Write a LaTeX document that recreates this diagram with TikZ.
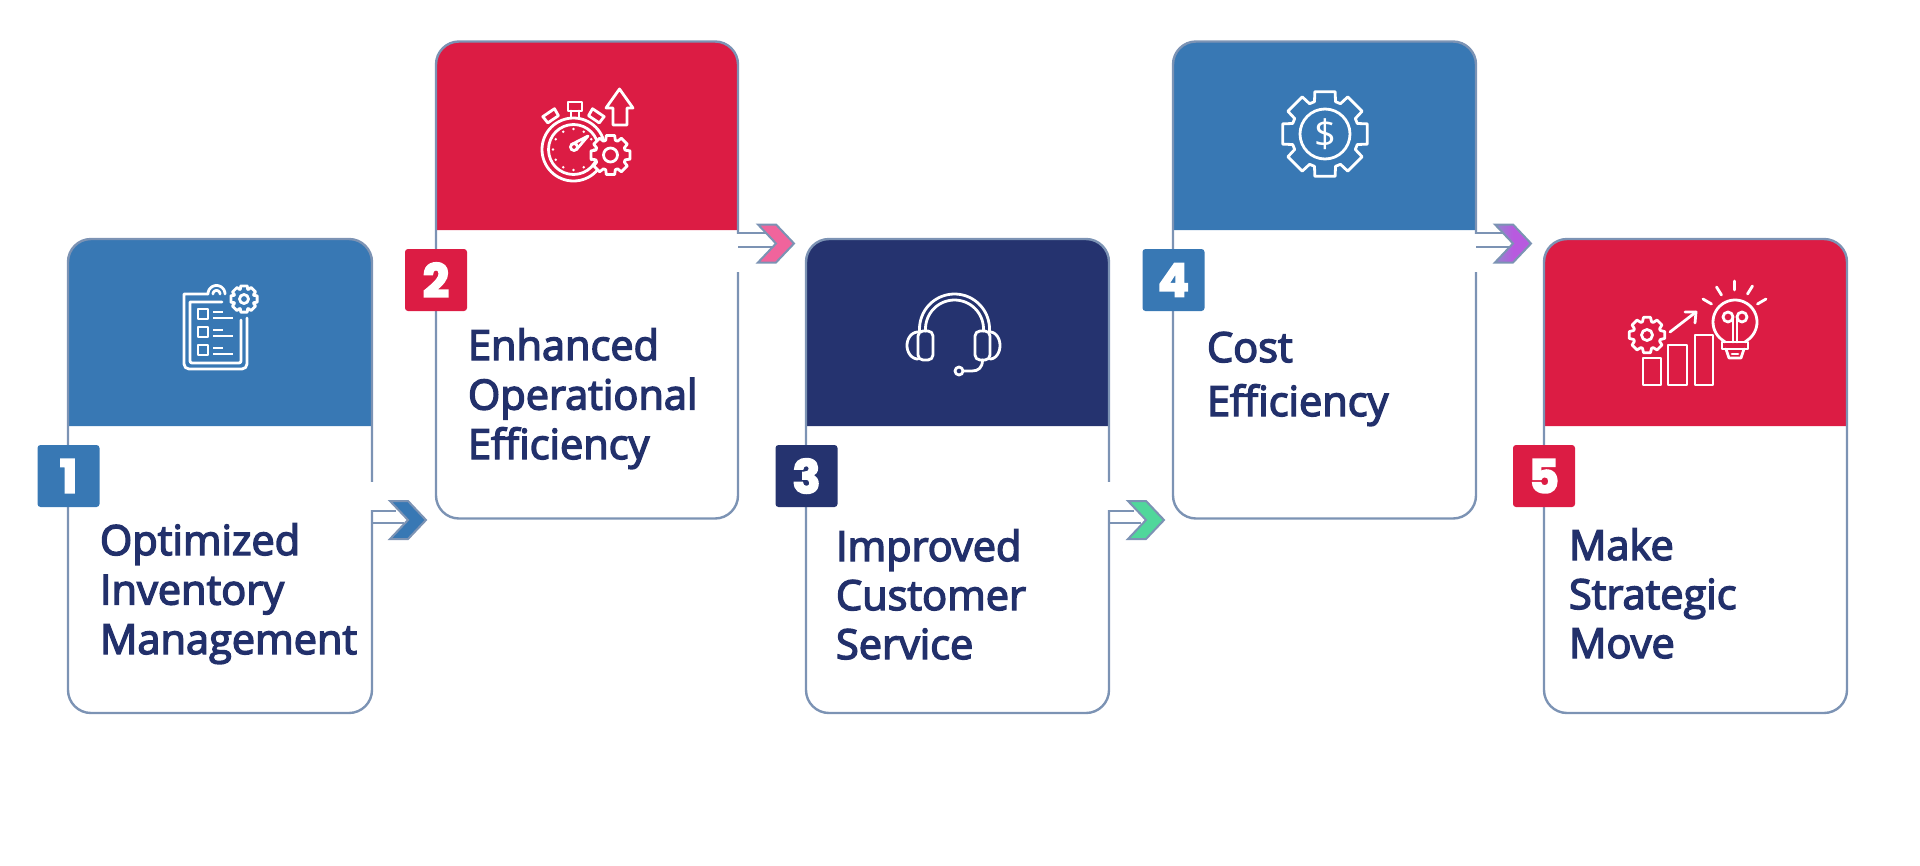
\documentclass[tikz,border=0pt]{standalone}
\usepackage{fontspec}
\setmainfont{Open Sans}
\newfontfamily\lblfont[FakeBold=3.5]{Open Sans}
\newfontfamily\numfont[FakeBold=4]{Poppins Bold}
\newfontfamily\dollarfont{Open Sans}
\definecolor{cblue}{HTML}{3878B4}
\definecolor{cred}{HTML}{DC1C44}
\definecolor{cnavy}{HTML}{25336F}
\definecolor{cline}{HTML}{7C93B4}
\definecolor{ctext}{HTML}{22306B}
\definecolor{cpink}{HTML}{F0649C}
\definecolor{cgreen}{HTML}{50D79B}
\definecolor{cpurple}{HTML}{B85ADF}
\definecolor{cperi}{HTML}{8F88CC}
\tikzset{
  x=1pt,y=-1pt,
  cardbox/.style={draw=cline,line width=2.4pt,rounded corners=23pt,inner sep=0pt,outer sep=0pt,minimum width=304pt,minimum height=474pt},
  cardlabel/.style={anchor=base west,inner sep=0pt,outer sep=0pt,text=ctext,font=\lblfont\fontsize{41.5}{50}\selectfont},
  badge/.style={rounded corners=3pt,inner sep=0pt,outer sep=0pt,minimum width=62pt,minimum height=62pt,text=white,font=\numfont\fontsize{46}{50}\selectfont},
  link/.style={draw=cline,line width=2.4pt},
  icon/.style={draw=white,line width=2.8pt,line join=round,line cap=round},
  chevron/.style={draw=cline,line width=2pt,line join=miter},
}
% header band: x0, x1, ytop, ybottom, colour
\newcommand\headband[5]{\fill[#5,rounded corners=23pt] (#1,#4) -- (#1,#3) -- (#2,#3) [sharp corners] -- (#2,#4) -- cycle;}
% gear: cx, cy, Router, Rroot, half angle outer, half angle root, fill
\newcommand\geartoothed[7]{\begin{scope}[shift={(#1,#2)}]
  \draw[icon,fill=#7] (-#6:#4) \foreach \i in {0,...,7} { -- (\i*45-#6:#4) -- (\i*45-#5:#3) -- (\i*45+#5:#3) -- (\i*45+#6:#4)} -- cycle;
\end{scope}}
% connector: name, x-start, gap top, gap bottom, y-upper, x-end-upper, y-lower, x-end-lower, notch
\newcommand\cardlink[9]{%
  \fill[white] (#2-3,#3) rectangle (#2+3,#4);
  \coordinate (#1u) at (#2,#5); \coordinate (#1ue) at (#6,#5);
  \coordinate (#1l) at (#2,#7); \coordinate (#1le) at (#8,#7);
  \draw[link] (#1u) -- (#1ue);
  \draw[link] (#1l) -- (#1le);
  \coordinate (#1n) at (#9);
}
\newcommand\chevronat[3]{\begin{scope}[shift={(#1,#2)}]
  \path[chevron,#3,draw] (0,-19) -- (18,-19) -- (36,0) -- (18,19) -- (0,19) -- (18,0) -- cycle;
\end{scope}}
\begin{document}
\begin{tikzpicture}
\useasboundingbox (0,0) rectangle (1920,865);

% ---------- card 1
\headband{68}{372}{239}{426}{cblue}
\node[cardbox] (c1) at (220,476) {};
\node[badge,fill=cblue] (b1) at (68.5,476) {1};
\node[cardlabel] (t1) at (100,555) {\vtop{\baselineskip=49.5pt\hbox{Optimized}\hbox{Inventory}\hbox{Management}}};
\cardlink{a}{372}{482}{510}{511}{396}{523}{404}{409,520}
\chevronat{390}{520}{fill=cblue}
% ---------- card 2
\headband{436}{738}{41}{230}{cred}
\node[cardbox,minimum width=302pt,minimum height=477pt] (c2) at (587,280) {};
\node[badge,fill=cred] (b2) at (436,280) {2};
\node[cardlabel] (t2) at (468,360) {\vtop{\baselineskip=49.5pt\hbox{Enhanced}\hbox{Operational}\hbox{Efficiency}}};
\cardlink{b}{738}{234}{272}{233}{766}{247}{772}{776,243.5}
\chevronat{758}{243.5}{fill=cpink}
% ---------- card 3
\headband{806}{1109}{239}{426}{cnavy}
\node[cardbox,minimum width=303pt] (c3) at (957.5,476) {};
\node[badge,fill=cnavy] (b3) at (806.5,476) {3};
\node[cardlabel] (t3) at (836,561) {\vtop{\baselineskip=49pt\hbox{Improved}\hbox{Customer}\hbox{Service}}};
\cardlink{c}{1109}{482}{510}{511}{1134}{523}{1141}{1146,520}
\chevronat{1128}{520}{fill=cgreen}
% ---------- card 4
\headband{1173}{1476}{41}{230}{cblue}
\node[cardbox,minimum width=303pt,minimum height=477pt] (c4) at (1324.5,280) {};
\node[badge,fill=cblue] (b4) at (1173.5,280) {4};
\node[cardlabel] (t4) at (1207,362) {\vtop{\baselineskip=54pt\hbox{Cost}\hbox{Efficiency}}};
\cardlink{d}{1476}{234}{272}{233}{1503}{247}{1509}{1513,243.5}
\chevronat{1495}{243.5}{left color=cperi,right color=cpurple,middle color=cpurple}
% ---------- card 5
\headband{1544}{1847}{239}{426}{cred}
\node[cardbox,minimum width=303pt] (c5) at (1695.5,476) {};
\node[badge,fill=cred] (b5) at (1544,476) {5};
\node[cardlabel] (t5) at (1569,560) {\vtop{\baselineskip=49pt\hbox{Make}\hbox{Strategic}\hbox{Move}}};

% ---------- icon 1 clipboard
\draw[icon] (208,294) -- (184,294) [rounded corners=5pt] -- (184,369) -- (247,369) -- (247,318);
\draw[icon] (222,302) -- (190,302) [rounded corners=2pt] -- (190,363) -- (241,363) -- (241,320);
\draw[icon] plot[domain=180:360,samples=24] ({216.5+8.5*cos(\x)},{294+8.5*sin(\x)});
\draw[icon] plot[domain=180:360,samples=16] ({216.5+3.5*cos(\x)},{294+3.5*sin(\x)});
\foreach \yy in {0,18,36}{
  \draw[icon,line cap=butt] (198,309+\yy) rectangle (208,319+\yy);
  \draw[icon,line cap=butt] (213,312+\yy) -- (223,312+\yy);
  \draw[icon,line cap=butt] (213,318+\yy) -- (233,318+\yy);
}
\geartoothed{244}{299}{13.5}{10.5}{14}{20}{cblue}
\draw[icon] (244,299) circle (4.5);

% ---------- icon 2 stopwatch
\draw[icon] (573.5,149.5) circle (31.5);
\draw[icon] (573.5,149.5) circle (25);
\draw[icon] (568,102) rectangle (582,111);
\draw[icon] (571,111) -- (571,117);
\draw[icon] (579,111) -- (579,117);
\begin{scope}[shift={(573.5,149.5)}]
  \draw[icon] (-134:37) -- (-133:45) -- (-115:45) -- (-114:37) -- cycle;
  \draw[icon] (-66:37) -- (-65:45) -- (-47:45) -- (-46:37) -- cycle;
  \foreach \t in {0,30,...,330} \fill[white] (\t:20.5) circle (1.4);
\end{scope}
\draw[icon] (574,147) circle (3.5);
\draw[icon] (571.5,144.5) -- (588,136) -- (576.5,149.5);
\geartoothed{610.5}{155}{20}{15.5}{12}{18}{cred}
\draw[icon] (610.5,155) circle (7);
\draw[icon] (619.5,89) -- (606,108) -- (613,108) -- (613,125) -- (627,125) -- (627,108) -- (633,108) -- cycle;

% ---------- icon 3 headset
\draw[icon] plot[domain=180:360,samples=40] ({954.5+35*cos(\x)},{329+35*sin(\x)});
\draw[icon] plot[domain=180:360,samples=40] ({954.5+29*cos(\x)},{329+29*sin(\x)});
\draw[icon] (919.5,329) -- (919.5,331);
\draw[icon] (925.5,329) -- (925.5,331);
\draw[icon] (983.5,329) -- (983.5,331);
\draw[icon] (989.5,329) -- (989.5,331);
\draw[icon,rounded corners=5pt] (918,331) rectangle (933,360);
\draw[icon,rounded corners=5pt] (975,331) rectangle (990,360);
\draw[icon] plot[domain=90:270,samples=24] ({918+11*cos(\x)},{345.5+13.5*sin(\x)});
\draw[icon] plot[domain=-90:90,samples=24] ({990+10*cos(\x)},{345.5+13.5*sin(\x)});
\draw[icon] (982.5,360) .. controls (982.5,368) and (978,371) .. (972,371) -- (963.5,371);
\draw[icon] (959,371) circle (4);

% ---------- icon 4 dollar gear
\geartoothed{1325}{134}{43.5}{34}{13.5}{18}{cblue}
\draw[icon] (1325,134) circle (25);
\node[inner sep=0pt,text=white,font=\dollarfont\fontsize{38}{40}\selectfont] (d4) at (1325,134) {\$};

% ---------- icon 5 growth
\geartoothed{1647}{335}{18}{14}{11}{19}{cred}
\draw[icon] (1647,335) circle (5.5);
\draw[icon] (1643,358) rectangle (1661,385);
\draw[icon] (1668,345) rectangle (1687,385);
\draw[icon] (1695,335) rectangle (1713,385);
\draw[icon] (1670,332) -- (1696,312);
\draw[icon] (1685,312) -- (1696,312) -- (1695,323);
\draw[icon] (1725,342) -- plot[domain=130:410,samples=40] ({1735+22*cos(\x)},{322+22*sin(\x)}) -- (1745,342);
\draw[icon] (1722,342) rectangle (1748,349);
\draw[icon] (1726,349) -- (1729,358) -- (1741,358) -- (1744,349);
\draw[icon] (1732,354) -- (1738,354);
\draw[icon] (1728,317) circle (5);
\draw[icon] (1742,317) circle (5);
\draw[icon] (1733,317) -- (1733,342);
\draw[icon] (1737,317) -- (1737,342);
\draw[icon] (1734.5,281) -- (1734.5,290);
\draw[icon] (1716.5,287) -- (1721.5,295);
\draw[icon] (1752.5,286) -- (1747.5,294);
\draw[icon] (1703,299) -- (1711.5,304);
\draw[icon] (1766,299) -- (1757.5,304);
\end{tikzpicture}
\end{document}
